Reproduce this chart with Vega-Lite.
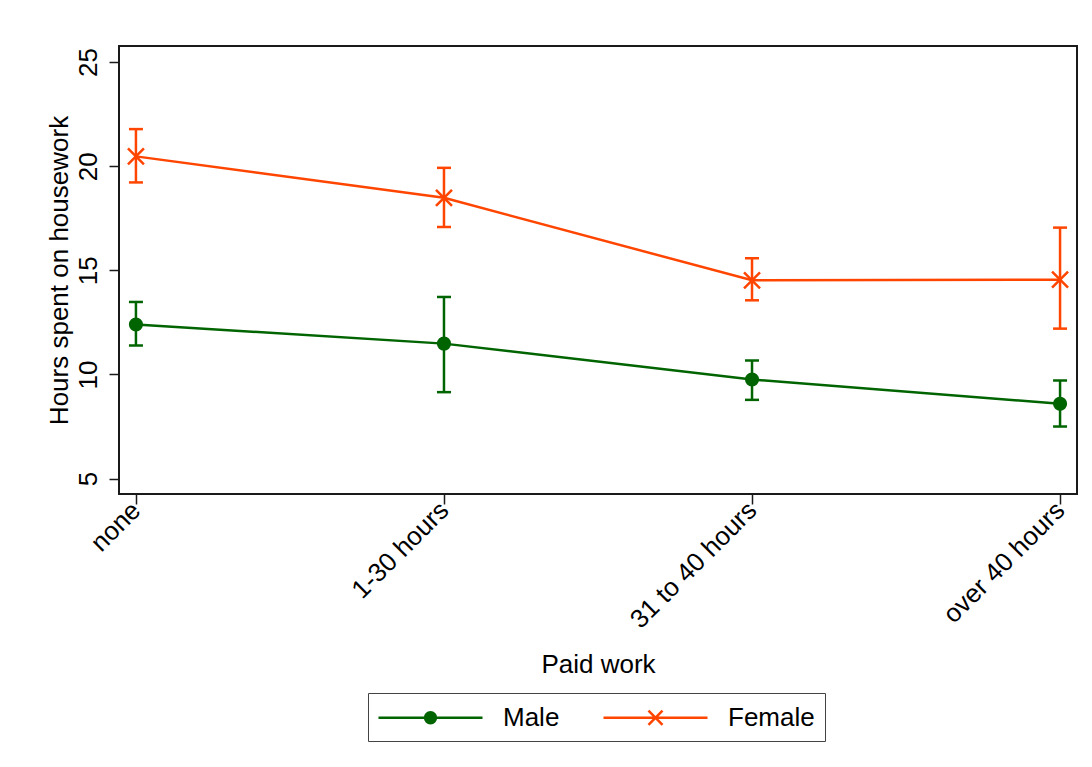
{
  "$schema": "https://vega.github.io/schema/vega-lite/v6.json",
  "width": 958,
  "height": 448,
  "autosize": {"type": "none"},
  "padding": {"left": 119, "top": 46, "right": 15, "bottom": 273},
  "background": "white",
  "config": {
    "font": "Liberation Sans",
    "view": {"stroke": "#1a1a1a", "strokeWidth": 2},
    "axis": {"labelColor": "black", "titleColor": "black", "tickColor": "#1a1a1a", "tickWidth": 1.5, "domain": false, "grid": false, "labelFontSize": 26, "titleFontSize": 26, "titleFontWeight": "normal", "labelFont": "Liberation Sans", "titleFont": "Liberation Sans"}
  },
  "data": {
    "values": [
      {"work": "none", "sex": "Male", "mean": 12.4, "lo": 11.39, "hi": 13.48},
      {"work": "1-30 hours", "sex": "Male", "mean": 11.48, "lo": 9.15, "hi": 13.72},
      {"work": "31 to 40 hours", "sex": "Male", "mean": 9.76, "lo": 8.78, "hi": 10.67},
      {"work": "over 40 hours", "sex": "Male", "mean": 8.59, "lo": 7.5, "hi": 9.71},
      {"work": "none", "sex": "Female", "mean": 20.47, "lo": 19.22, "hi": 21.78},
      {"work": "1-30 hours", "sex": "Female", "mean": 18.48, "lo": 17.08, "hi": 19.92},
      {"work": "31 to 40 hours", "sex": "Female", "mean": 14.52, "lo": 13.56, "hi": 15.58},
      {"work": "over 40 hours", "sex": "Female", "mean": 14.55, "lo": 12.2, "hi": 17.05}
    ]
  },
  "encoding": {
    "x": {
      "field": "work", "type": "ordinal",
      "sort": ["none", "1-30 hours", "31 to 40 hours", "over 40 hours"],
      "scale": {"type": "point", "padding": 0.055},
      "axis": {"title": "Paid work", "labelAngle": -45, "labelAlign": "right", "labelBaseline": "middle", "tickSize": 10, "labelPadding": 2, "titleY": 178, "titleBaseline": "alphabetic"}
    },
    "color": {
      "field": "sex", "type": "nominal",
      "scale": {"domain": ["Male", "Female"], "range": ["#006400", "#FF4500"]},
      "legend": {
        "title": null, "orient": "none", "legendX": 249, "legendY": 647, "direction": "horizontal",
        "strokeColor": "#444444", "fillColor": "white", "padding": 10,
        "labelFontSize": 26, "labelFont": "Liberation Sans", "labelColor": "black",
        "symbolSize": 676, "symbolOffset": 38, "labelOffset": 58, "columnPadding": 38,
        "symbolStrokeWidth": 2,
        "encode": {
          "symbols": {
            "update": {
              "shape": {"signal": "datum.value === 'Male' ? 'M-4,0H4M0.42,0A0.42,0.42,0,1,1,-0.42,0A0.42,0.42,0,1,1,0.42,0Z' : 'M-4,0H4M-0.54,-0.54L0.54,0.54M-0.54,0.54L0.54,-0.54'"},
              "fill": {"signal": "datum.value === 'Male' ? '#006400' : 'transparent'"},
              "stroke": {"signal": "datum.value === 'Male' ? '#006400' : '#FF4500'"},
              "strokeWidth": {"value": 2.5},
              "opacity": {"value": 1}
            }
          }
        }
      }
    }
  },
  "layer": [
    {
      "mark": {"type": "rule", "strokeWidth": 2.5},
      "encoding": {
        "y": {"field": "lo", "type": "quantitative", "scale": {"domain": [4.26, 25.77], "nice": false, "zero": false},
          "axis": {"title": "Hours spent on housework", "values": [5, 10, 15, 20, 25], "labelAngle": -90, "tickSize": 10, "labelPadding": 8, "titleX": -52, "titleBaseline": "alphabetic"}},
        "y2": {"field": "hi"}
      }
    },
    {
      "mark": {"type": "tick", "size": 14, "thickness": 2.5, "opacity": 1},
      "encoding": {"y": {"field": "hi", "type": "quantitative"}}
    },
    {
      "mark": {"type": "tick", "size": 14, "thickness": 2.5, "opacity": 1},
      "encoding": {"y": {"field": "lo", "type": "quantitative"}}
    },
    {
      "mark": {"type": "line", "strokeWidth": 2.5},
      "encoding": {"y": {"field": "mean", "type": "quantitative"}}
    },
    {
      "transform": [{"filter": "datum.sex === 'Male'"}],
      "mark": {"type": "point", "shape": "circle", "filled": true, "size": 200, "opacity": 1},
      "encoding": {"y": {"field": "mean", "type": "quantitative"}}
    },
    {
      "transform": [{"filter": "datum.sex === 'Female'"}],
      "mark": {"type": "point", "shape": "M-1,-1L1,1M-1,1L1,-1", "filled": false, "size": 256, "strokeWidth": 2.5, "opacity": 1},
      "encoding": {"y": {"field": "mean", "type": "quantitative"}}
    }
  ]
}
